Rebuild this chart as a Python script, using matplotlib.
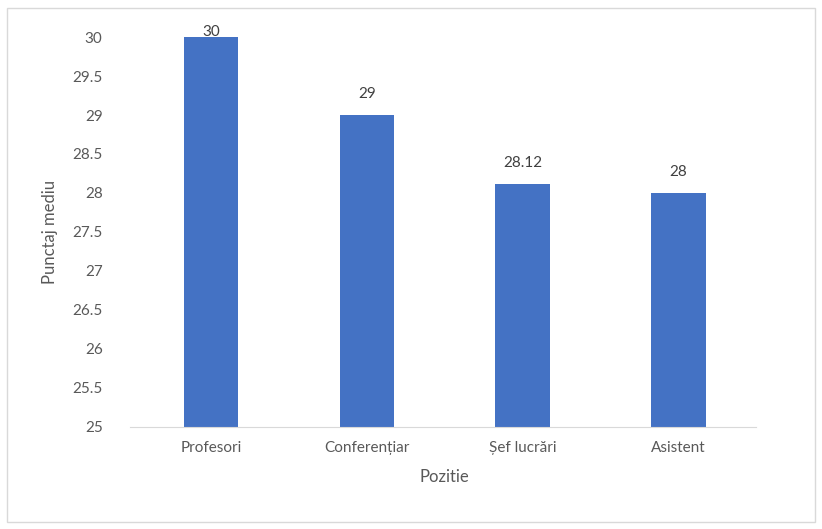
import matplotlib
matplotlib.use("Agg")
import matplotlib.pyplot as plt
from matplotlib.patches import Rectangle

positions = ["Profesori", "Conferențiar", "Șef lucrări", "Asistent"]
scores = [30, 29, 28.12, 28]
score_labels = ["30", "29", "28.12", "28"]

plt.rcParams['font.family'] = ['Lato', 'DejaVu Sans']

fig = plt.figure(figsize=(8.22, 5.29), dpi=100)
ax = fig.add_axes([0.162, 0.193, 0.758, 0.737])

gray = '#595959'
x = range(len(positions))
bars = ax.bar(x, [s - 25 for s in scores], bottom=25, width=0.35, color='#4472C4')

# labels above bars, the top one gets pushed down into the plot area like excel does
for b, lab in zip(bars, score_labels):
    top = b.get_y() + b.get_height()
    ax.text(b.get_x() + b.get_width() / 2, min(top + 0.18, 29.98), lab,
            ha='center', va='bottom', fontsize=11, color='#404040')

ax.set_xlim(-0.5, len(positions) - 0.5)
ax.set_ylim(25, 30)
ax.set_yticks([25 + 0.5 * i for i in range(11)])
ax.set_yticklabels(["25", "25.5", "26", "26.5", "27", "27.5", "28", "28.5", "29", "29.5", "30"])
ax.set_xticks(list(x))
ax.set_xticklabels(positions)
ax.tick_params(axis='both', length=0, labelsize=11, labelcolor=gray)
ax.tick_params(axis='y', pad=22)
ax.tick_params(axis='x', pad=10)

for side in ['top', 'right', 'left']:
    ax.spines[side].set_visible(False)
ax.spines['bottom'].set_color('#D9D9D9')
ax.spines['bottom'].set_bounds(-0.52, 3.5)

ax.set_xlabel("Pozitie", fontsize=12, color=gray, labelpad=10)
ax.set_ylabel("Punctaj mediu", fontsize=12, color=gray, labelpad=10)

fig.patches.append(Rectangle((7 / 822, 7 / 529), 808 / 822, 514 / 529, transform=fig.transFigure,
                             fill=False, edgecolor='#D9D9D9', linewidth=1))

fig.savefig("out.png", dpi=100)
